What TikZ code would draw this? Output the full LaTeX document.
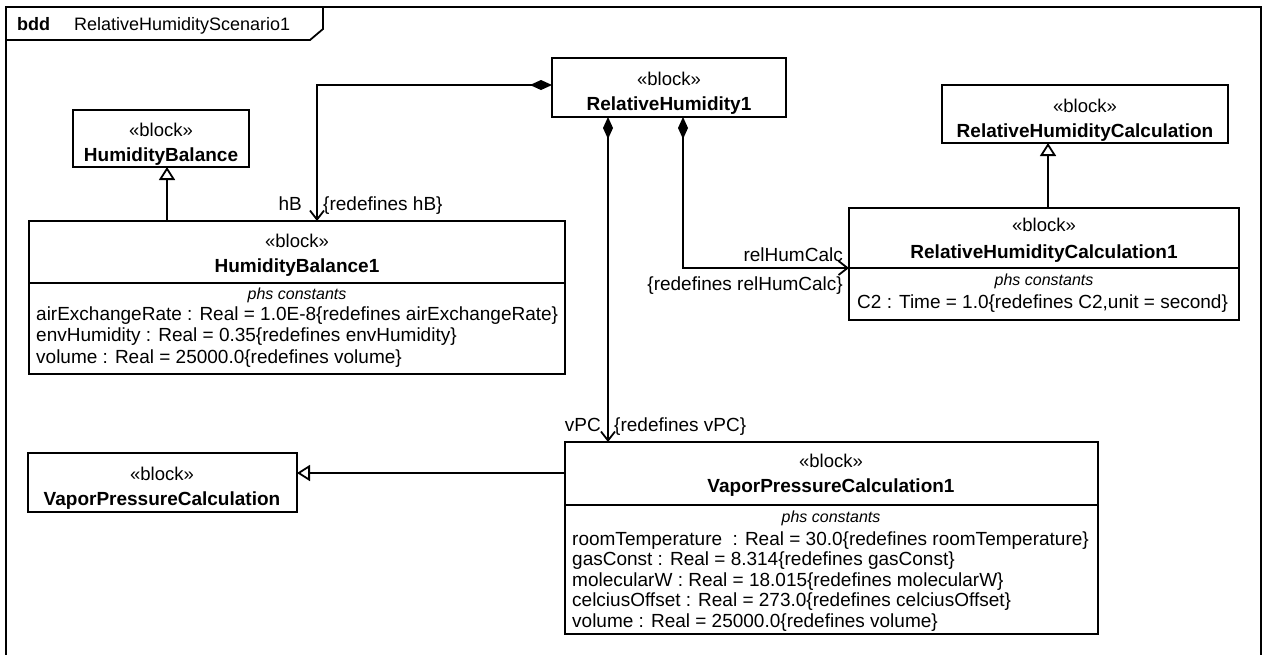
\documentclass[tikz,border=0pt]{standalone}
\usepackage{fontspec}
\setmainfont{Liberation Sans}
\usetikzlibrary{arrows.meta,calc}
\begin{document}
\begin{tikzpicture}[x=1pt,y=-1pt,
  blk/.style={draw, line width=1.8pt, inner sep=0pt, outer sep=0pt, anchor=north west, fill=white},
  ster/.style={font=\fontsize{18.5}{20}\selectfont, anchor=base, inner sep=0pt},
  bname/.style={font=\fontsize{19}{21}\selectfont\bfseries, anchor=base, inner sep=0pt},
  phs/.style={font=\fontsize{16}{18}\selectfont\itshape, anchor=base, inner sep=0pt},
  attr/.style={font=\fontsize{19}{21}\selectfont, anchor=base west, inner sep=0pt},
  lbl/.style={font=\fontsize{19}{21}\selectfont, inner sep=0pt},
  sep/.style={line width=1.8pt},
  comp/.style={line width=1.8pt, {Diamond[length=22pt,width=10pt]}-{Straight Barb[length=9pt,width=14pt]}},
  gen/.style={line width=1.8pt, -{Triangle[open,length=13pt,width=16pt,fill=white]}}
]
\useasboundingbox (0,0) rectangle (1266,654);
% frame
\node[draw, line width=1.8pt, inner sep=0pt, outer sep=0pt, anchor=north west,
      minimum width=1255pt, minimum height=660pt] (frame) at (6,7) {};
\coordinate (t1) at (6,40);
\coordinate (t2) at (310,40);
\coordinate (t3) at (323,29);
\coordinate (t4) at (323,7);
\draw[line width=1.8pt] (t1) -- (t2) -- (t3) -- (t4);
\node[font=\fontsize{18}{20}\selectfont\bfseries, anchor=base west, inner sep=0pt] (bdd) at (17,30) {bdd};
\node[font=\fontsize{18}{20}\selectfont, anchor=base west, inner sep=0pt] (fname) at (74,30) {RelativeHumidityScenario1};

% RelativeHumidity1
\node[blk, minimum width=234pt, minimum height=59pt] (rh1) at (552,58) {};
\node[ster] (rh1s) at (669,85) {«block»};
\node[bname] (rh1n) at (669,110) {RelativeHumidity1};

% HumidityBalance
\node[blk, minimum width=176pt, minimum height=57pt] (hb) at (73,110) {};
\node[ster] (hbs) at (161,136) {«block»};
\node[bname] (hbn) at (161,161) {HumidityBalance};

% RelativeHumidityCalculation
\node[blk, minimum width=286pt, minimum height=58pt] (rhc) at (942,85) {};
\node[ster] (rhcs) at (1085,112) {«block»};
\node[bname] (rhcn) at (1085,137) {RelativeHumidityCalculation};

% VaporPressureCalculation
\node[blk, minimum width=269pt, minimum height=59pt] (vpc) at (28,453) {};
\node[ster] (vpcs) at (162,480) {«block»};
\node[bname] (vpcn) at (162,505) {VaporPressureCalculation};

% HumidityBalance1
\node[blk, minimum width=536pt, minimum height=153pt] (hb1) at (29,221) {};
\node[ster] (hb1s) at (297,247) {«block»};
\node[bname] (hb1n) at (297,272) {HumidityBalance1};
\draw[sep] ($(hb1.north west)+(0,62)$) -- ($(hb1.north east)+(0,62)$);
\node[phs] (hb1p) at (297,299) {phs constants};
\node[attr] (hb1a) at (36,320) {airExchangeRate : Real = 1.0E-8\{redefines airExchangeRate\}};
\node[attr] (hb1b) at (36,341.5) {envHumidity : Real = 0.35\{redefines envHumidity\}};
\node[attr] (hb1c) at (36,363) {volume : Real = 25000.0\{redefines volume\}};

% RelativeHumidityCalculation1
\node[blk, minimum width=390pt, minimum height=112pt] (rhc1) at (849,208) {};
\node[ster] (rhc1s) at (1044,231) {«block»};
\node[bname] (rhc1n) at (1044,258) {RelativeHumidityCalculation1};
\draw[sep] ($(rhc1.north west)+(0,60)$) -- ($(rhc1.north east)+(0,60)$);
\node[phs] (rhc1p) at (1044,285) {phs constants};
\node[attr] (rhc1a) at (857,308) {C2 : Time = 1.0\{redefines C2,unit = second\}};

% VaporPressureCalculation1
\node[blk, minimum width=533pt, minimum height=192pt] (vpc1) at (565,442) {};
\node[ster] (vpc1s) at (831,467) {«block»};
\node[bname] (vpc1n) at (831,492) {VaporPressureCalculation1};
\draw[sep] ($(vpc1.north west)+(0,63)$) -- ($(vpc1.north east)+(0,63)$);
\node[phs] (vpc1p) at (831,522) {phs constants};
\node[attr] (vpc1a) at (572,545) {roomTemperature \ : Real = 30.0\{redefines roomTemperature\}};
\node[attr] (vpc1b) at (572,565.5) {gasConst : Real = 8.314\{redefines gasConst\}};
\node[attr] (vpc1c) at (572,586) {molecularW : Real = 18.015\{redefines molecularW\}};
\node[attr] (vpc1d) at (572,606.5) {celciusOffset : Real = 273.0\{redefines celciusOffset\}};
\node[attr] (vpc1e) at (572,627) {volume : Real = 25000.0\{redefines volume\}};

% compositions
\draw[comp] ($(rh1.north west)+(0,27)$) -| ($(hb1.north west)+(288,0)$);
\node[lbl, anchor=base east] (lhb) at (302,210) {hB};
\node[lbl, anchor=base west] (lhbr) at (323,210) {\{redefines hB\}};

\draw[comp] ($(rh1.south west)+(56,0)$) -- ($(vpc1.north west)+(43,0)$);
\node[lbl, anchor=base east] (lvpc) at (601,431) {vPC};
\node[lbl, anchor=base west] (lvpcr) at (614,431) {\{redefines vPC\}};

\draw[comp] ($(rh1.south west)+(131,0)$) |- ($(rhc1.north west)+(0,60)$);
\node[lbl, anchor=base east] (lrhc) at (843,261) {relHumCalc};
\node[lbl, anchor=base east] (lrhcr) at (843,290) {\{redefines relHumCalc\}};

% generalizations
\draw[gen] ($(hb1.north west)+(138,0)$) -- ($(hb.south west)+(94,0)$);
\draw[gen] ($(rhc1.north west)+(199,0)$) -- ($(rhc.south west)+(106,0)$);
\draw[gen] ($(vpc1.north west)+(0,31)$) -- ($(vpc.north east)+(0,20)$);
\end{tikzpicture}
\end{document}
